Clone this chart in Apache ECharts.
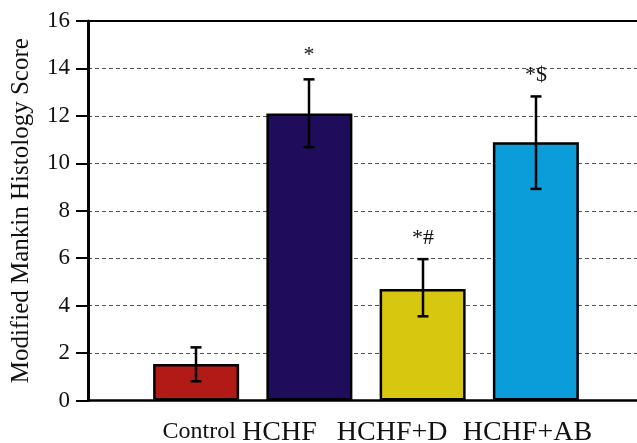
<!DOCTYPE html>
<html>
<head>
<meta charset="utf-8">
<script src="https://cdn.jsdelivr.net/npm/echarts@6/dist/echarts.min.js"></script>
<style>
html,body{margin:0;padding:0;background:#fff;}
#chart{width:637px;height:443px;}
</style>
</head>
<body>
<div id="chart"></div>
<script>
// ---- data ----
const categories = ['Control', 'HCHF', 'HCHF+D', 'HCHF+AB'];
const meanScores = [1.54, 12.10, 4.70, 10.89];
const errLow = [0.81, 10.68, 3.55, 8.92];
const errHigh = [2.24, 13.54, 5.96, 12.82];
const sigMarks = ['', '*', '*#', '*$'];
const barColors = ['#B11A17', '#1F0D5B', '#D7C80F', '#0B9DDA'];
const yAxisTitle = 'Modified Mankin Histology Score';

const FONT = "'Liberation Serif', 'Times New Roman', serif";

const chart = echarts.init(document.getElementById('chart'), null, {renderer: 'canvas'});

const labelRich = {
  c0: {fontFamily: FONT, fontSize: 24, color: '#111', padding: [1, 0, 0, 6]},
  c1: {fontFamily: FONT, fontSize: 28, color: '#111', padding: [0, 60, 0, 0]},
  c2: {fontFamily: FONT, fontSize: 28, color: '#111', padding: [0, 61, 0, 0]},
  c3: {fontFamily: FONT, fontSize: 28, color: '#111', padding: [0, 17, 0, 0]}
};

const option = {
  animation: false,
  backgroundColor: '#fff',
  grid: [
    {left: 88, right: 0, top: 21, bottom: 42.5, containLabel: false, outerBoundsMode: 'none'},
    {left: 139.5, right: 44.5, top: 21, bottom: 42.5, containLabel: false, outerBoundsMode: 'none'}
  ],
  xAxis: [
    {
      gridIndex: 0, type: 'value', min: 0, max: 1, position: 'bottom',
      axisLine: {show: true, lineStyle: {color: '#000', width: 2.5}},
      axisTick: {show: false}, axisLabel: {show: false}, splitLine: {show: false}
    },
    {
      gridIndex: 0, type: 'value', min: 0, max: 1, position: 'top',
      axisLine: {show: true, lineStyle: {color: '#000', width: 2}},
      axisTick: {show: false}, axisLabel: {show: false}, splitLine: {show: false}
    },
    {
      gridIndex: 1, type: 'category', data: categories, position: 'bottom',
      axisLine: {show: false}, axisTick: {show: false}, splitLine: {show: false},
      axisLabel: {
        interval: 0, margin: 18,
        formatter: (v, i) => '{c' + i + '|' + v + '}',
        rich: labelRich
      }
    }
  ],
  yAxis: [
    {
      gridIndex: 0, type: 'value', min: 0, max: 16, interval: 2,
      name: yAxisTitle, nameLocation: 'middle', nameGap: 54,
      nameTextStyle: {fontFamily: FONT, fontSize: 25, color: '#111'},
      axisLine: {show: true, lineStyle: {color: '#000', width: 3}},
      axisTick: {show: true, length: 12, lineStyle: {color: '#000', width: 2}},
      axisLabel: {fontFamily: FONT, fontSize: 23, color: '#111', margin: 18},
      splitLine: {show: true, lineStyle: {color: '#555', width: 1, type: [4, 3]}}
    },
    {
      gridIndex: 1, type: 'value', min: 0, max: 16, interval: 2, show: false,
      splitLine: {show: false}
    }
  ],
  series: [
    {
      type: 'bar', xAxisIndex: 2, yAxisIndex: 1,
      barWidth: 86,
      data: meanScores.map((v, i) => ({
        value: v,
        itemStyle: {color: barColors[i], borderColor: '#000', borderWidth: 2.5}
      })),
      z: 2
    },
    {
      type: 'custom', xAxisIndex: 2, yAxisIndex: 1, z: 3,
      encode: {x: 0, y: [1, 2]},
      data: categories.map((c, i) => [i, errLow[i], errHigh[i]]),
      renderItem: function (params, api) {
        const idx = api.value(0);
        const lo = api.coord([idx, api.value(1)]);
        const hi = api.coord([idx, api.value(2)]);
        const x = Math.round(hi[0]);
        const half = 5.5;
        const st = {stroke: '#000', lineWidth: 2.5};
        return {
          type: 'group',
          children: [
            {type: 'line', shape: {x1: x, y1: lo[1], x2: x, y2: hi[1]}, style: st},
            {type: 'line', shape: {x1: x - half, y1: hi[1], x2: x + half, y2: hi[1]}, style: st},
            {type: 'line', shape: {x1: x - half, y1: lo[1], x2: x + half, y2: lo[1]}, style: st},
            {type: 'text', style: {
              text: sigMarks[idx], x: x, y: hi[1] - (idx === 1 ? 13 : 10),
              align: 'center', verticalAlign: 'bottom',
              fontFamily: FONT, fontSize: 22, fill: '#111'
            }}
          ]
        };
      }
    }
  ]
};

chart.setOption(option);
</script>
</body>
</html>
